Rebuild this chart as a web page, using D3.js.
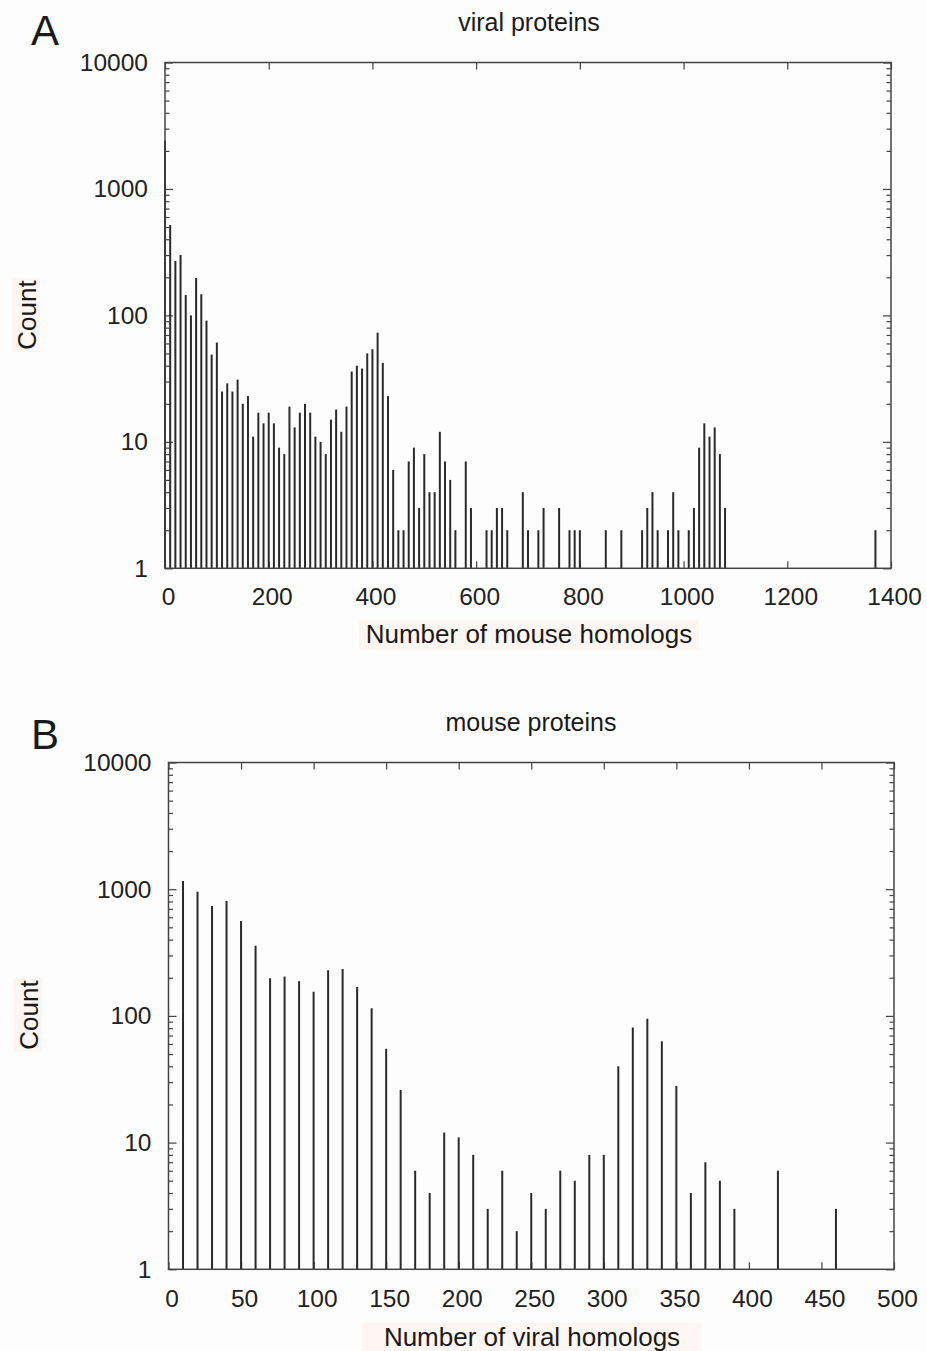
<!DOCTYPE html>
<html lang="en">
<head>
  <meta charset="UTF-8">
  <script src="https://d3js.org/d3.v7.min.js"></script>
  <style>
    body {
      margin: 0;
      background: #fdfdfe;
    }

    svg {
      display: block;
    }

    .tick text {
      font-family: "Liberation Sans", Arial, sans-serif;
      font-size: 24.5px;
      fill: #222;
    }

    .tick line {
      stroke: #444;
      stroke-width: 1.2px;
    }

    .bar {
      stroke: #2a2a2a;
      stroke-width: 2px;
    }

    .frame {
      fill: none;
      stroke: #444;
      stroke-width: 1.5px;
    }

    .label {
      font-family: "Liberation Sans", Arial, sans-serif;
      font-size: 26px;
      fill: #1a1a1a;
    }

    .letter {
      font-family: "Liberation Sans", Arial, sans-serif;
      font-size: 42px;
      fill: #1a1a1a;
    }
  </style>
</head>
<body>
  <div id="chart"></div>

  <script>
    // Panel A: viral proteins, binned by number of mouse homologs
    var viralBins = [0, 10, 20, 30, 40, 50, 60, 70, 80, 90, 100, 110, 120, 130, 140, 150, 160, 170, 180, 190,
      200, 210, 220, 230, 240, 250, 260, 270, 280, 290, 300, 310, 320, 330, 340, 350, 360, 370, 380, 390,
      400, 410, 420, 430, 440, 450, 460, 470, 480, 490, 500, 510, 520, 530, 540, 550, 560, 580, 590,
      620, 630, 640, 650, 660, 690, 700, 720, 730, 760, 780, 790, 800, 850, 880,
      920, 930, 940, 950, 970, 980, 990, 1010, 1020, 1030, 1040, 1050, 1060, 1070, 1080, 1370];
    var viralCounts = [2400, 518, 269, 300, 145, 100, 198, 147, 91, 49, 61, 25, 29, 25, 31, 20, 23, 11, 17, 14,
      17, 14, 9, 8, 19, 13, 17, 20, 17, 11, 10, 8, 15, 18, 12, 19, 36, 40, 38, 50,
      54, 73, 42, 23, 6, 2, 2, 7, 9, 3, 8, 4, 4, 12, 7, 5, 2, 7, 3,
      2, 2, 3, 3, 2, 4, 2, 2, 3, 3, 2, 2, 2, 2, 2,
      2, 3, 4, 2, 2, 4, 2, 2, 3, 9, 14, 11, 13, 8, 3, 2];

    // Panel B: mouse proteins, binned by number of viral homologs
    var mouseBins = [10, 20, 30, 40, 50, 60, 70, 80, 90, 100, 110, 120, 130, 140, 150, 160, 170, 180, 190, 200,
      210, 220, 230, 240, 250, 260, 270, 280, 290, 300, 310, 320, 330, 340, 350, 360, 370, 380, 390, 420, 460];
    var mouseCounts = [1161, 955, 737, 807, 561, 358, 198, 205, 188, 155, 229, 235, 169, 115, 55, 26, 6, 4, 12, 11,
      8, 3, 6, 2, 4, 3, 6, 5, 8, 8, 40, 81, 95, 63, 28, 4, 7, 5, 3, 6, 3];

    var countTicks = [1, 10, 100, 1000, 10000];
    var mouseHomologTicks = [0, 200, 400, 600, 800, 1000, 1200, 1400];
    var viralHomologTicks = [0, 50, 100, 150, 200, 250, 300, 350, 400, 450, 500];

    var width = 927;
    var height = 1351;

    var svg = d3.select("#chart")
      .append("svg")
      .attr("width", width)
      .attr("height", height);

    var panels = [
      {
        letter: "A", title: "viral proteins", xLabel: "Number of mouse homologs",
        bins: viralBins, counts: viralCounts, xMax: 1400, xTicks: mouseHomologTicks,
        left: 165, right: 891, top: 62.5, bottom: 568.3,
        letterY: 45, titleX: 529, titleY: 31, xLabelX: 529, xLabelY: 643, countX: 36, countY: 315, padX: 19
      },
      {
        letter: "B", title: "mouse proteins", xLabel: "Number of viral homologs",
        bins: mouseBins, counts: mouseCounts, xMax: 500, xTicks: viralHomologTicks,
        left: 168.5, right: 894, top: 762.5, bottom: 1269.3,
        letterY: 749, titleX: 531, titleY: 731, xLabelX: 532, xLabelY: 1346, countX: 38, countY: 1015, padX: 20
      }
    ];

    panels.forEach(drawPanel);

    function drawPanel(p) {
      var x = d3.scaleLinear().domain([0, p.xMax]).range([p.left, p.right]);
      var y = d3.scaleLog().domain([1, 10000]).range([p.bottom, p.top]);
      var g = svg.append("g");

      var minor = y.ticks().filter(function (v) { return countTicks.indexOf(v) < 0; });
      var noDomain = function (sel) { sel.select(".domain").remove(); };

      // faint warm halo behind the axis titles, as in the scan
      g.append("rect")
        .attr("x", p.xLabelX - 170).attr("y", p.xLabelY - 23)
        .attr("width", 340).attr("height", 30)
        .attr("fill", "#fef6f2");
      g.append("rect")
        .attr("x", p.countX - 24).attr("y", p.countY - 37)
        .attr("width", 28).attr("height", 74)
        .attr("fill", "#fef6f2");

      // minor log ticks, both sides, pointing in
      g.append("g")
        .attr("transform", "translate(" + p.left + ",0)")
        .call(d3.axisLeft(y).tickValues(minor).tickSize(-4.5).tickFormat(""))
        .call(noDomain);
      g.append("g")
        .attr("transform", "translate(" + p.right + ",0)")
        .call(d3.axisRight(y).tickValues(minor).tickSize(-4.5).tickFormat(""))
        .call(noDomain);

      // major y ticks
      g.append("g")
        .attr("transform", "translate(" + p.left + ",0)")
        .call(d3.axisLeft(y).tickValues(countTicks).tickSize(-8).tickPadding(17).tickFormat(d3.format("d")))
        .call(noDomain);
      g.append("g")
        .attr("transform", "translate(" + p.right + ",0)")
        .call(d3.axisRight(y).tickValues(countTicks).tickSize(-8).tickFormat(""))
        .call(noDomain);

      // x ticks, bottom with labels and mirrored on top
      g.append("g")
        .attr("transform", "translate(0," + p.bottom + ")")
        .call(d3.axisBottom(x).tickValues(p.xTicks).tickSize(-7).tickPadding(p.padX).tickFormat(d3.format("d")))
        .call(noDomain)
        .selectAll("text").attr("dx", 3);
      g.append("g")
        .attr("transform", "translate(0," + p.top + ")")
        .call(d3.axisTop(x).tickValues(p.xTicks).tickSize(-7).tickFormat(""))
        .call(noDomain);

      // impulses
      var data = p.bins.map(function (b, i) { return { bin: b, count: p.counts[i] }; });
      g.selectAll(".bar")
        .data(data)
        .enter()
        .append("line")
        .attr("class", "bar")
        .attr("x1", function (d) { return x(d.bin); })
        .attr("x2", function (d) { return x(d.bin); })
        .attr("y1", y(1))
        .attr("y2", function (d) { return y(d.count); });

      g.append("rect")
        .attr("class", "frame")
        .attr("x", p.left)
        .attr("y", p.top)
        .attr("width", p.right - p.left)
        .attr("height", p.bottom - p.top);

      g.append("text")
        .attr("class", "label")
        .attr("x", p.xLabelX)
        .attr("y", p.xLabelY)
        .attr("text-anchor", "middle")
        .text(p.xLabel);

      g.append("text")
        .attr("class", "label")
        .attr("transform", "translate(" + p.countX + "," + p.countY + ") rotate(-90)")
        .attr("text-anchor", "middle")
        .text("Count");

      g.append("text")
        .attr("class", "label")
        .attr("x", p.titleX)
        .attr("y", p.titleY)
        .attr("text-anchor", "middle")
        .style("font-size", "25px")
        .text(p.title);

      g.append("text")
        .attr("class", "letter")
        .attr("x", 31)
        .attr("y", p.letterY)
        .text(p.letter);
    }
  </script>
</body>
</html>
